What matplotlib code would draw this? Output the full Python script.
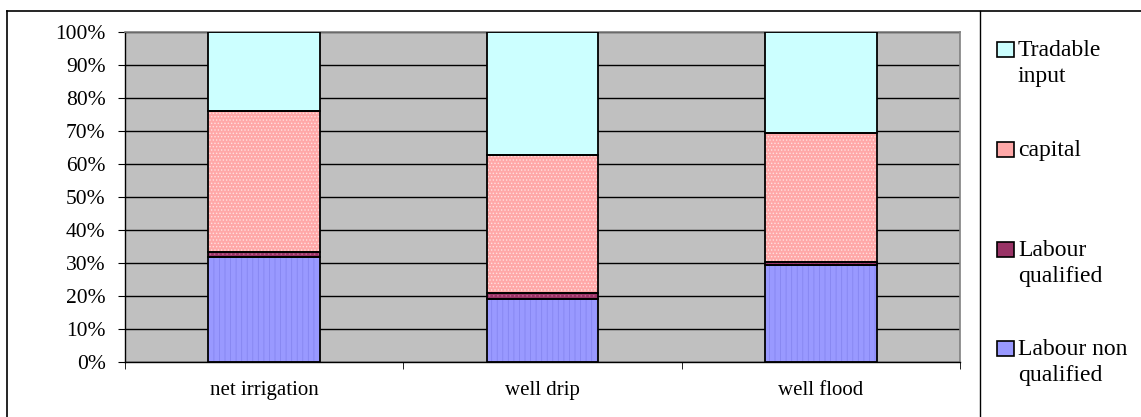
import matplotlib
matplotlib.use("Agg")
import matplotlib.pyplot as plt
import numpy as np
from matplotlib.lines import Line2D
from matplotlib.patches import Rectangle

categories = ["net irrigation", "well drip", "well flood"]
series_names = ["Labour non\nqualified", "Labour\nqualified", "capital", "Tradable\ninput"]
labour_non_qualified = [31.7, 19.1, 29.4]
labour_qualified = [1.7, 1.9, 1.0]
capital = [42.6, 41.7, 38.9]
tradable_input = [24.0, 37.3, 30.7]
yticks = [0, 10, 20, 30, 40, 50, 60, 70, 80, 90, 100]

series = [labour_non_qualified, labour_qualified, capital, tradable_input]
faces = ["#9999FF", "#993366", "#FFA8A8", "#CCFFFF"]
hatches = ["|||", "....", ".....", None]
hatch_cols = ["#8585F0", "#C0608A", "#FFE0E0", None]

plt.rcParams['font.family'] = ['Liberation Serif', 'DejaVu Serif']
plt.rcParams['hatch.linewidth'] = 0.6

fig = plt.figure(figsize=(11.41, 4.17), dpi=100)
W, H = 1141, 417
ax = fig.add_axes([125 / W, 1 - 362 / H, (960 - 125) / W, (362 - 32) / H])
ax.set_facecolor("#C0C0C0")

x = np.arange(len(categories))
bottom = np.zeros(len(categories))
for vals, fc, h, hc in zip(series, faces, hatches, hatch_cols):
    if h:
        ax.bar(x, vals, 0.4, bottom=bottom, color=fc, hatch=h, edgecolor=hc,
               linewidth=0, zorder=2)
    else:
        ax.bar(x, vals, 0.4, bottom=bottom, color=fc, linewidth=0, zorder=2)
    ax.bar(x, vals, 0.4, bottom=bottom, fill=False, edgecolor="black",
           linewidth=1.3, zorder=3)
    bottom += np.array(vals)

ax.set_xlim(-0.5, 2.5)
ax.set_ylim(0, 100)
ax.set_yticks(yticks)
ax.set_yticklabels(["%d%%" % t for t in yticks])
ax.yaxis.grid(True, color="black", linewidth=1)
ax.set_axisbelow(True)
ax.set_xticks(x)
ax.set_xticklabels(categories)
ax.set_xticks([-0.5, 0.5, 1.5, 2.5], minor=True)
ax.tick_params(axis="x", which="major", length=0, pad=14, labelsize=15)
ax.tick_params(axis="x", which="minor", length=5, color="black", direction="out")
ax.tick_params(axis="y", length=5, color="black", direction="out", labelsize=15.5, pad=9)
for s in ["top", "right"]:
    ax.spines[s].set_color("#808080")
    ax.spines[s].set_linewidth(1.2)
ax.spines["left"].set_color("black")
ax.spines["bottom"].set_color("black")
ax.spines["left"].set_linewidth(1)
ax.spines["bottom"].set_linewidth(1)

# outer frame and divider
fig.add_artist(Line2D([7 / W, 1], [1 - 11 / H, 1 - 11 / H], color="black", lw=1.2))
fig.add_artist(Line2D([7 / W, 7 / W], [0, 1 - 11 / H], color="black", lw=1.2))
fig.add_artist(Line2D([980 / W, 980 / W], [0, 1 - 11 / H], color="black", lw=1.0))

# legend
leg_base = [57, 157, 257, 356]
order = [3, 2, 1, 0]
for yy, i in zip(leg_base, order):
    fig.add_artist(Rectangle((997 / W, 1 - yy / H), 17 / W, 15 / H,
                             facecolor=faces[i], edgecolor="black", lw=1.2,
                             transform=fig.transFigure))
    fig.text(1018 / W, 1 - (yy - 17) / H, series_names[i], fontsize=17,
             va="top", ha="left", linespacing=1.3)

fig.savefig("out.png", dpi=100)
